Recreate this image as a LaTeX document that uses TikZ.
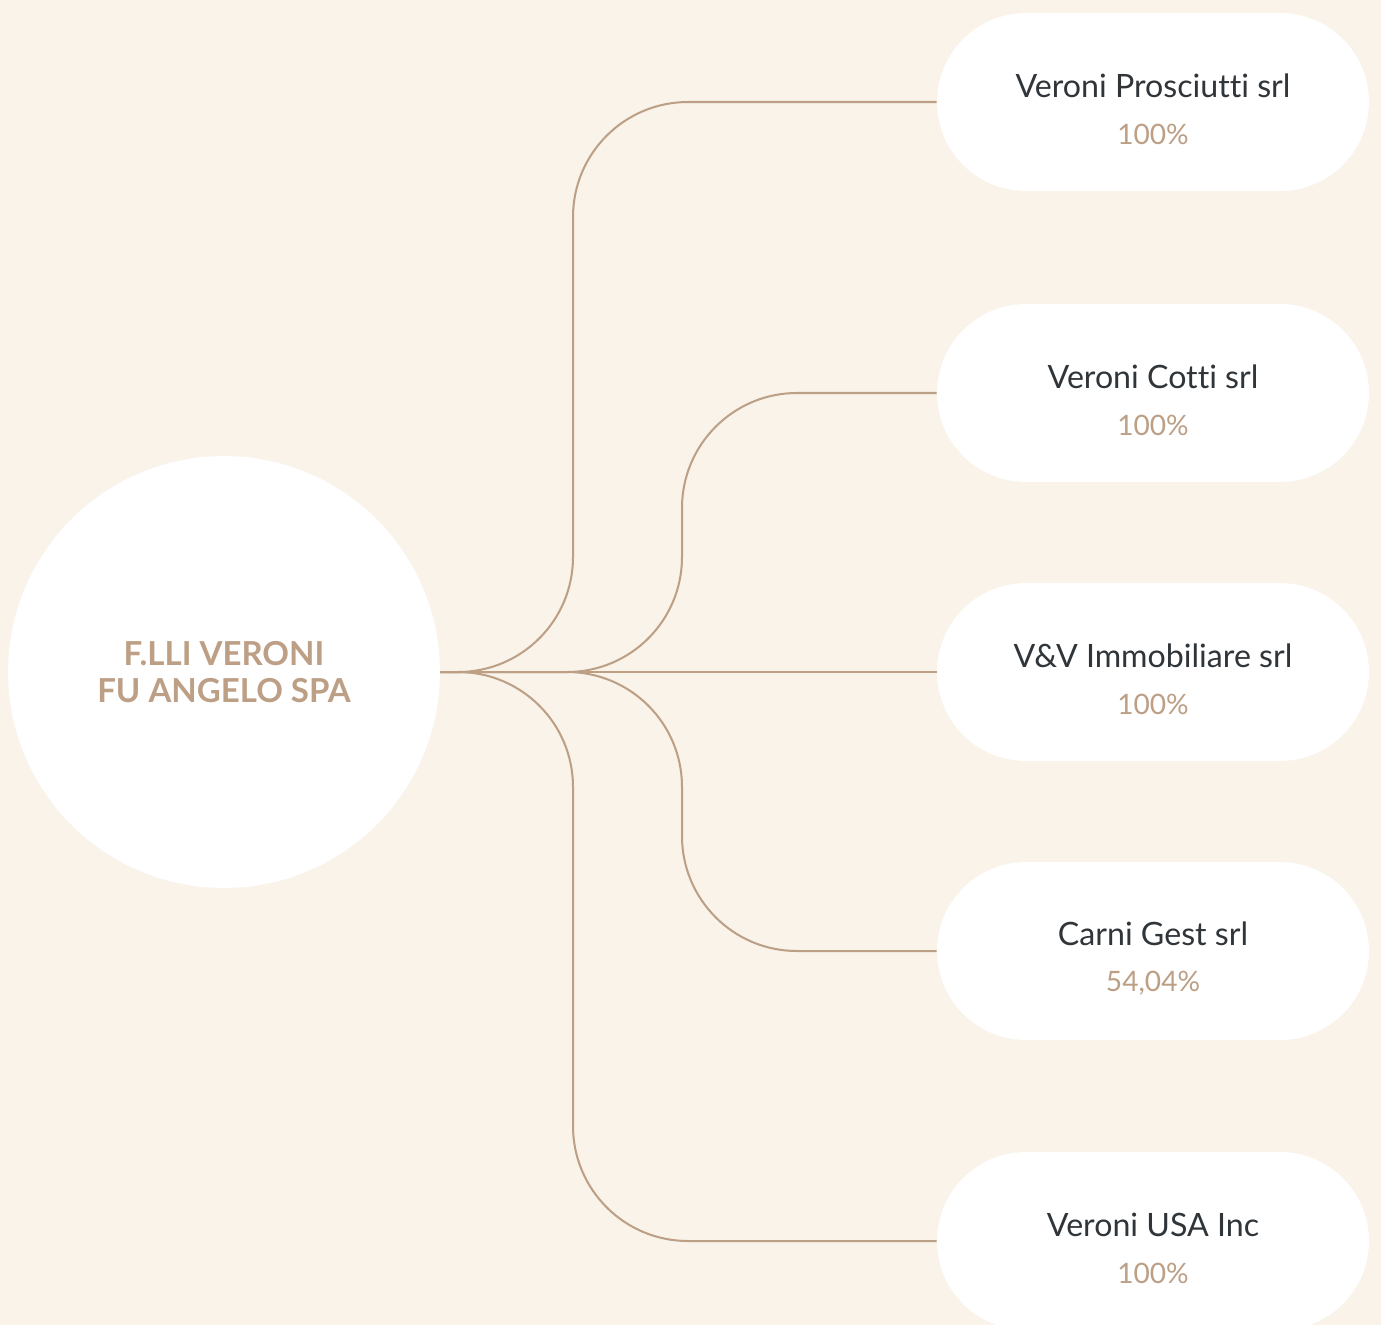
\documentclass[tikz,border=0pt]{standalone}
\usepackage{fontspec}
\setmainfont{Lato}[Ligatures=NoCommon]
\usetikzlibrary{positioning}
\definecolor{paper}{HTML}{F9F3EA}
\definecolor{tan}{HTML}{BC9F85}
\definecolor{ink}{HTML}{30353A}
\tikzstyle{holding} = [circle, fill=white, minimum size=8.64cm, inner sep=0pt, align=center, text=tan, font=\fontsize{18.8}{21.5}\selectfont\bfseries]
\tikzstyle{company} = [rectangle, fill=white, rounded corners=1.78cm, minimum width=8.64cm, minimum height=3.56cm, inner sep=0pt, align=center, text=ink, font=\fontsize{18.3}{21}\selectfont]
\tikzstyle{link} = [draw=tan, line width=1.15pt, rounded corners=2.3cm]
\newcommand{\firm}[2]{\rule{0pt}{22pt}#1\\[5.5pt]{\fontsize{16}{18}\selectfont\color{tan}#2}}

\begin{document}
\begin{tikzpicture}[x=0.02cm, y=-0.02cm]
  \fill[paper] (0,0) rectangle (1381,1325);
  \clip (0,0) rectangle (1381,1325);

  % holding
  \node[holding] (root) at (224,672) {F.LLI VERONI\\FU ANGELO SPA};

  % controllate
  \node[company] (pros) at (1153,102) {\firm{Veroni Prosciutti srl}{100\%}};
  \node[company] (cotti) at (1153,393) {\firm{Veroni Cotti srl}{100\%}};
  \node[company] (immo) at (1153,672) {\firm{V\&V Immobiliare srl}{100\%}};
  \node[company] (carni) at (1153,951) {\firm{Carni Gest srl}{54,04\%}};
  \node[company] (usa) at (1153,1241) {\firm{Veroni USA Inc}{100\%}};

  % rami esterni
  \draw[link] (root.east) -- (573,672) |- (pros.west);
  \draw[link] (root.east) -- (573,672) |- (usa.west);

  % rami interni
  \draw[link] (root.east) -- (682,672) |- (cotti.west);
  \draw[link] (root.east) -- (682,672) |- (carni.west);

  % ramo centrale
  \draw[link] (root.east) -- (immo.west);
\end{tikzpicture}
\end{document}
